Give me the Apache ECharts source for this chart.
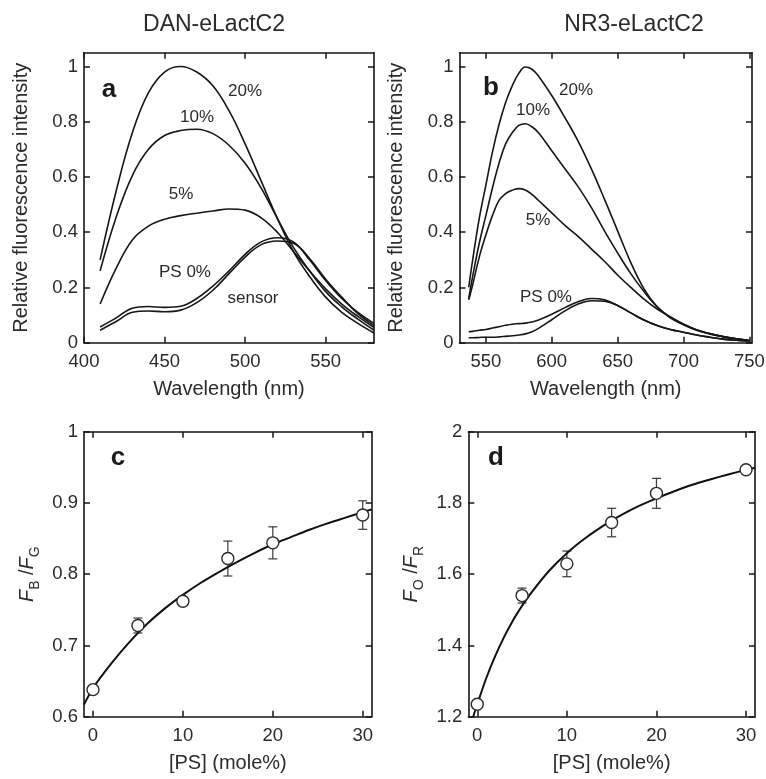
<!DOCTYPE html>
<html><head><meta charset="utf-8">
<script src="https://cdn.jsdelivr.net/npm/echarts@6/dist/echarts.min.js"></script>
<style>html,body{margin:0;padding:0;background:#fff}#c{width:766px;height:779px}</style>
</head><body><div id="c"></div>
<script>
// Panel a: DAN-eLactC2 spectra
const wlA = [410,420,430,440,450,460,470,480,490,500,510,520,530,540,550,560,570,580];
const a20 = [0.30,0.55,0.76,0.905,0.98,1.0,0.98,0.93,0.84,0.72,0.585,0.45,0.33,0.24,0.165,0.11,0.07,0.035];
const a10 = [0.26,0.455,0.605,0.70,0.750,0.768,0.773,0.757,0.715,0.65,0.56,0.45,0.345,0.26,0.185,0.13,0.085,0.045];
const a5  = [0.14,0.27,0.372,0.422,0.447,0.46,0.469,0.477,0.484,0.48,0.452,0.40,0.33,0.26,0.195,0.14,0.095,0.055];
const aPS0 = [0.057,0.09,0.125,0.131,0.128,0.132,0.16,0.205,0.26,0.32,0.365,0.38,0.365,0.30,0.225,0.16,0.11,0.07];
const aSensor = [0.045,0.077,0.11,0.115,0.112,0.118,0.145,0.19,0.25,0.31,0.355,0.368,0.36,0.305,0.23,0.165,0.105,0.062];

// Panel b: NR3-eLactC2 spectra
const wlB = [537,540,545,550,555,560,565,570,575,580,585,590,600,610,620,630,640,650,660,670,680,690,700,710,720,730,740,750];
const b20 = [0.20,0.30,0.45,0.57,0.69,0.79,0.87,0.93,0.975,0.998,0.99,0.965,0.895,0.815,0.73,0.63,0.52,0.405,0.29,0.195,0.13,0.09,0.065,0.045,0.032,0.022,0.014,0.008];
const b10 = [0.16,0.24,0.36,0.46,0.56,0.65,0.72,0.76,0.787,0.793,0.782,0.76,0.695,0.63,0.565,0.49,0.405,0.325,0.25,0.185,0.13,0.092,0.066,0.046,0.032,0.022,0.014,0.008];
const b5  = [0.155,0.21,0.31,0.39,0.46,0.515,0.54,0.552,0.558,0.553,0.537,0.515,0.47,0.425,0.385,0.34,0.295,0.245,0.20,0.158,0.122,0.094,0.068,0.047,0.033,0.022,0.014,0.008];
const bPS0 = [0.04,0.041,0.045,0.048,0.053,0.058,0.063,0.067,0.069,0.071,0.075,0.082,0.103,0.127,0.148,0.16,0.155,0.135,0.108,0.082,0.062,0.048,0.038,0.028,0.02,0.013,0.009,0.006];
const bSensor = [0.018,0.018,0.019,0.02,0.02,0.021,0.023,0.025,0.028,0.032,0.04,0.052,0.083,0.115,0.14,0.152,0.15,0.135,0.108,0.082,0.062,0.048,0.038,0.028,0.02,0.013,0.009,0.006];

// Panel c: FB/FG vs PS
const psX = [0,5,10,15,20,30];
const cY = [0.638,0.728,0.762,0.822,0.844,0.883];
const cErr = [0.004,0.0105,0.006,0.0245,0.0225,0.02];
const cFitX = [-1,0,2,4,6,8,10,12,14,16,18,20,22,24,26,28,30,31];
const cFitY = [0.617,0.640,0.674,0.704,0.730,0.752,0.771,0.788,0.803,0.817,0.830,0.842,0.852,0.862,0.871,0.879,0.887,0.891];

// Panel d: FO/FR vs PS
const dY = [1.235,1.540,1.629,1.745,1.827,1.893];
const dErr = [0.005,0.021,0.036,0.040,0.042,0.006];
const dFitX = [-0.45,0,1,2,3,4,5,6,8,10,12,14,16,18,20,22,24,26,28,30,31];
const dFitY = [1.200,1.235,1.308,1.370,1.424,1.471,1.511,1.547,1.609,1.659,1.700,1.735,1.765,1.791,1.813,1.833,1.851,1.866,1.880,1.893,1.899];

// Tick labels
const ticksA = [400,450,500,550];
const ticksB = [550,600,650,700,750];
const ticksPS = [0,10,20,30];
const ticksRel = [0,0.2,0.4,0.6,0.8,1];
const ticksC = [0.6,0.7,0.8,0.9,1];
const ticksD = [1.2,1.4,1.6,1.8,2];

const FONT = "'Liberation Sans', Arial, Helvetica, sans-serif";
const TXT = '#2b2b2b';
const LINE = '#161616';

function xAx(gi, min, max, ticks, name, show) {
  return {
    type: 'value', gridIndex: gi, min, max, position: show ? 'bottom' : 'top',
    name: show ? name : '', nameLocation: 'middle', nameGap: 37,
    nameTextStyle: {fontFamily: FONT, fontSize: 20, color: TXT},
    axisLine: {show: true, onZero: false, lineStyle: {color: LINE, width: 1.6}},
    axisTick: {show: true, inside: true, length: 6, customValues: ticks, lineStyle: {color: LINE, width: 1.5}},
    axisLabel: {show: show, customValues: ticks, margin: 10, fontFamily: FONT, fontSize: 18.5, color: TXT},
    splitLine: {show: false}
  };
}
function yAx(gi, min, max, ticks, name, gap, show) {
  return {
    type: 'value', gridIndex: gi, min, max, position: show ? 'left' : 'right',
    name: show ? name : '', nameLocation: 'middle', nameGap: gap, nameRotate: 90,
    nameTextStyle: {fontFamily: FONT, fontSize: 20, color: TXT,
      rich: {
        f: {fontFamily: FONT, fontStyle: 'italic', fontSize: 20, lineHeight: 30, verticalAlign: 'middle', color: TXT},
        s: {fontFamily: FONT, fontSize: 14, lineHeight: 14, verticalAlign: 'bottom', color: TXT},
        n: {fontFamily: FONT, fontSize: 20, lineHeight: 30, verticalAlign: 'middle', color: TXT}
      }},
    axisLine: {show: true, onZero: false, lineStyle: {color: LINE, width: 1.6}},
    axisTick: {show: true, inside: true, length: 6, customValues: ticks, lineStyle: {color: LINE, width: 1.5}},
    axisLabel: {show: show, customValues: ticks, margin: 6, fontFamily: FONT, fontSize: 18.5, color: TXT},
    splitLine: {show: false}
  };
}
function spec(ai, xs, ys, name) {
  return {type: 'line', name, xAxisIndex: ai, yAxisIndex: ai, data: xs.map((x, i) => [x, ys[i]]),
    smooth: 0.4, symbol: 'none', lineStyle: {color: LINE, width: 1.6}, silent: true, z: 2};
}
function errBars(ai, xs, ys, es) {
  return {type: 'custom', xAxisIndex: ai, yAxisIndex: ai, z: 3, silent: true,
    data: xs.map((x, i) => [x, ys[i] - es[i], ys[i] + es[i]]),
    encode: {x: 0, y: [1, 2]},
    renderItem: function (params, api) {
      const x = api.value(0);
      const lo = api.coord([x, api.value(1)]);
      const hi = api.coord([x, api.value(2)]);
      const w = 4.5;
      const st = {stroke: '#3a3a3a', lineWidth: 1.2};
      return {type: 'group', children: [
        {type: 'line', shape: {x1: lo[0], y1: lo[1], x2: hi[0], y2: hi[1]}, style: st},
        {type: 'line', shape: {x1: lo[0] - w, y1: lo[1], x2: lo[0] + w, y2: lo[1]}, style: st},
        {type: 'line', shape: {x1: hi[0] - w, y1: hi[1], x2: hi[0] + w, y2: hi[1]}, style: st}
      ]};
    }};
}
function pts(ai, xs, ys) {
  return {type: 'scatter', xAxisIndex: ai, yAxisIndex: ai, z: 10, silent: true,
    data: xs.map((x, i) => [x, ys[i]]), symbol: 'circle', symbolSize: 12,
    itemStyle: {color: '#ffffff', opacity: 1, borderColor: '#2a2a2a', borderWidth: 1.4}};
}
function fit(ai, xs, ys) {
  return {type: 'line', xAxisIndex: ai, yAxisIndex: ai, z: 4, silent: true,
    data: xs.map((x, i) => [x, ys[i]]), smooth: 0.3, symbol: 'none',
    lineStyle: {color: '#111', width: 2}};
}
function txt(x, y, t, size, bold) {
  return {type: 'text', x, y, z: 100, silent: true,
    style: {text: t, fontFamily: FONT, fontSize: size, fontWeight: bold ? 'bold' : 'normal', fill: bold ? '#1a1a1a' : TXT,
      align: 'center', verticalAlign: 'middle', textAlign: 'center', textVerticalAlign: 'middle'}};
}

const chart = echarts.init(document.getElementById('c'), null, {renderer: 'canvas'});
chart.setOption({
  animation: false,
  backgroundColor: '#fff',
  title: [
    {text: 'DAN-eLactC2', left: 214, top: 13, padding: 0, textAlign: 'center', textStyle: {fontFamily: FONT, fontSize: 23, fontWeight: 'normal', color: TXT}},
    {text: 'NR3-eLactC2', left: 634, top: 13, padding: 0, textAlign: 'center', textStyle: {fontFamily: FONT, fontSize: 23, fontWeight: 'normal', color: TXT}}
  ],
  grid: [
    {left: 84, top: 52.7, width: 290, height: 290, outerBoundsMode: 'none'},
    {left: 459.5, top: 52.7, width: 292.5, height: 290, outerBoundsMode: 'none'},
    {left: 84, top: 431.7, width: 287.7, height: 285, outerBoundsMode: 'none'},
    {left: 468.3, top: 431.7, width: 286.7, height: 285, outerBoundsMode: 'none'}
  ],
  xAxis: [
    xAx(0, 400, 580, ticksA, 'Wavelength (nm)', true),
    xAx(0, 400, 580, ticksA, '', false),
    xAx(1, 530, 752, ticksB, 'Wavelength (nm)', true),
    xAx(1, 530, 752, ticksB, '', false),
    xAx(2, -1, 31, ticksPS, '[PS] (mole%)', true),
    xAx(2, -1, 31, ticksPS, '', false),
    xAx(3, -1, 31, ticksPS, '[PS] (mole%)', true),
    xAx(3, -1, 31, ticksPS, '', false)
  ],
  yAxis: [
    yAx(0, 0, 1.05, ticksRel, 'Relative fluorescence intensity', 53, true),
    yAx(0, 0, 1.05, ticksRel, '', 0, false),
    yAx(1, 0, 1.05, ticksRel, 'Relative fluorescence intensity', 53, true),
    yAx(1, 0, 1.05, ticksRel, '', 0, false),
    yAx(2, 0.6, 1, ticksC, '{f|F}{s|B}{n| /}{f|F}{s|G}', 42, true),
    yAx(2, 0.6, 1, ticksC, '', 0, false),
    yAx(3, 1.2, 2, ticksD, '{f|F}{s|O}{n| /}{f|F}{s|R}', 42, true),
    yAx(3, 1.2, 2, ticksD, '', 0, false)
  ],
  series: [
    spec(0, wlA, a20, '20%'), spec(0, wlA, a10, '10%'), spec(0, wlA, a5, '5%'),
    spec(0, wlA, aPS0, 'PS 0%'), spec(0, wlA, aSensor, 'sensor'),
    spec(2, wlB, b20, '20%'), spec(2, wlB, b10, '10%'), spec(2, wlB, b5, '5%'),
    spec(2, wlB, bPS0, 'PS 0%'), spec(2, wlB, bSensor, 'sensor'),
    fit(4, cFitX, cFitY), errBars(4, psX, cY, cErr), pts(4, psX, cY),
    fit(6, dFitX, dFitY), errBars(6, psX, dY, dErr), pts(6, psX, dY)
  ],
  graphic: [
    txt(109, 90, 'a', 26, true),
    txt(245, 91, '20%', 17), txt(197, 117, '10%', 17), txt(181, 194, '5%', 17),
    txt(185, 272, 'PS 0%', 17), txt(253, 298, 'sensor', 17),
    txt(491, 88, 'b', 26, true),
    txt(576, 90, '20%', 17), txt(533, 110, '10%', 17), txt(538, 220, '5%', 17),
    txt(546, 297, 'PS 0%', 17),
    txt(118, 458, 'c', 26, true),
    txt(496, 458, 'd', 26, true)
  ]
});
</script></body></html>
